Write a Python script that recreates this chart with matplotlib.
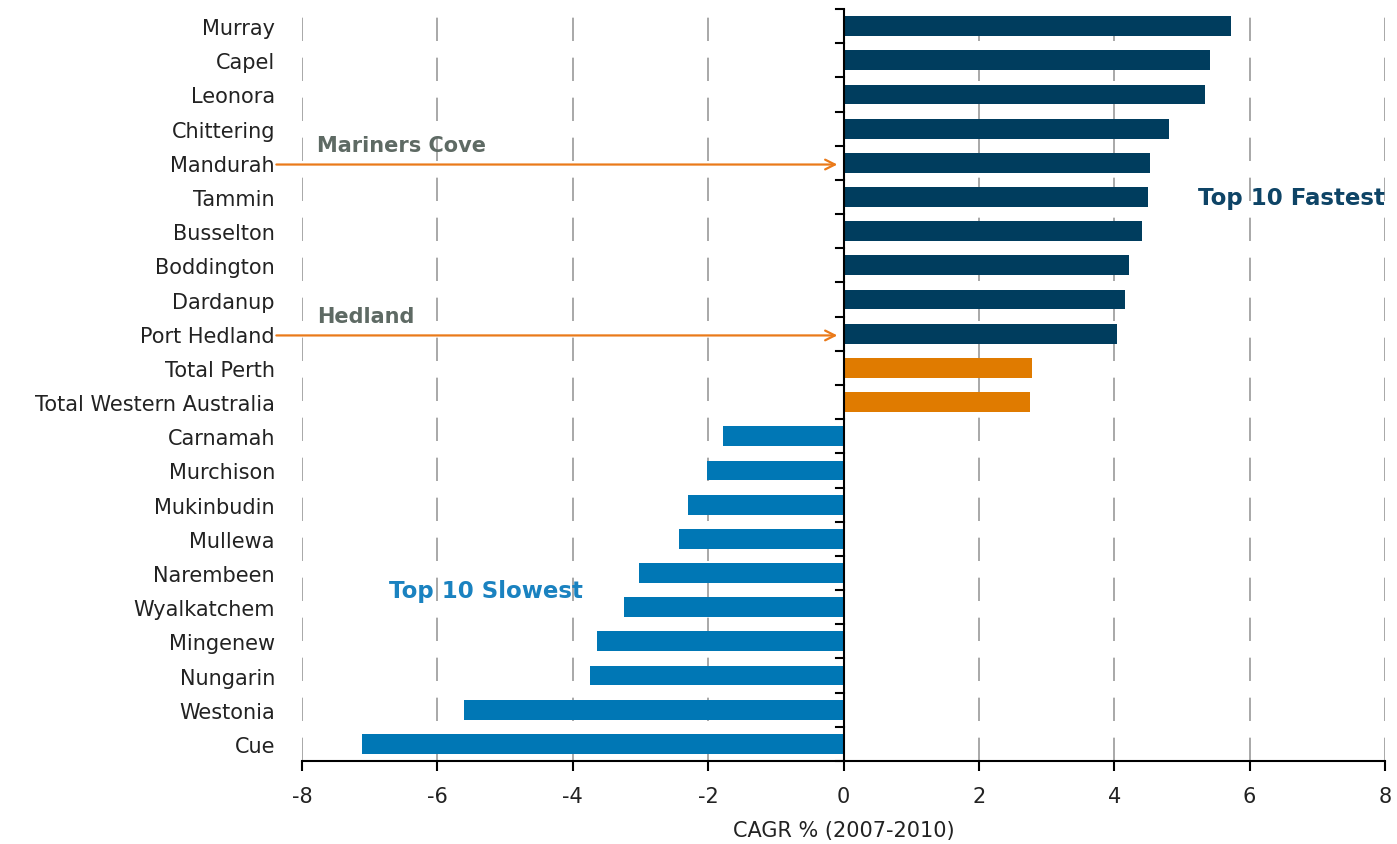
import matplotlib.pyplot as plt

# CAGR % (2007-2010) by local area
areas = ['Murray', 'Capel', 'Leonora', 'Chittering', 'Mandurah', 'Tammin',
         'Busselton', 'Boddington', 'Dardanup', 'Port Hedland', 'Total Perth',
         'Total Western Australia', 'Carnamah', 'Murchison', 'Mukinbudin',
         'Mullewa', 'Narembeen', 'Wyalkatchem', 'Mingenew', 'Nungarin',
         'Westonia', 'Cue']
cagr = [5.72, 5.41, 5.34, 4.81, 4.53, 4.50, 4.41, 4.22, 4.16, 4.04, 2.79,
        2.76, -1.78, -2.01, -2.29, -2.43, -3.02, -3.24, -3.64, -3.75,
        -5.60, -7.12]
groups = ['fast'] * 10 + ['total'] * 2 + ['slow'] * 10
xticks = [-8, -6, -4, -2, 0, 2, 4, 6, 8]

colors = {'fast': '#003d5e', 'total': '#e07b00', 'slow': '#0077b5'}
bar_colors = [colors[g] for g in groups]

fig = plt.figure(figsize=(13.97, 8.45), dpi=100)
ax = fig.add_axes([302 / 1397, 1 - 762 / 845, (1385 - 302) / 1397, (762 - 10) / 845])

y = list(range(len(areas)))
ax.barh(y, cagr, height=0.58, color=bar_colors, zorder=3)

ax.set_xlim(-8, 8)
ax.set_ylim(len(areas) - 0.5, -0.5)

# dashed vertical grid
for xt in xticks:
    if xt != 0:
        ax.axvline(xt, color='#9a9a9a', lw=1.2, dashes=(14, 10), zorder=1)

# zero axis with ticks between categories
ax.axvline(0, color='black', lw=1.5, zorder=4)
for b in range(len(areas) + 1):
    ax.plot([-0.11, 0], [b - 0.5, b - 0.5], color='black', lw=1.5,
            zorder=4, clip_on=False)

for s in ['top', 'right', 'left']:
    ax.spines[s].set_visible(False)
ax.spines['bottom'].set_linewidth(1.5)

ax.set_yticks(y)
ax.set_yticklabels(areas, fontsize=15, color='#222222')
ax.tick_params(axis='y', length=0, pad=19.5)
ax.set_xticks(xticks)
ax.set_xticklabels([str(v) for v in xticks], fontsize=15, color='#222222')
ax.tick_params(axis='x', length=7, width=1.5, direction='out', pad=11)
ax.set_xlabel('CAGR % (2007-2010)', fontsize=15, color='#222222', labelpad=10)

# annotations
arrow_col = '#ea7a1a'
for name, label in [('Mandurah', 'Mariners Cove'), ('Port Hedland', 'Hedland')]:
    i = areas.index(name)
    ax.annotate('', xy=(-0.05, i + 0.05), xytext=(-8.42, i + 0.05),
                arrowprops=dict(arrowstyle='->,head_length=0.7,head_width=0.35',
                                color=arrow_col, lw=1.6),
                annotation_clip=False, zorder=5)
    ax.text(-7.78, i - 0.52, label, fontsize=15, fontweight='bold',
            color='#5e6a64', ha='left', va='center', zorder=5)

ax.text(8, 5.0, 'Top 10 Fastest', fontsize=16.5, fontweight='bold',
        color='#0e4466', ha='right', va='center', zorder=5)
ax.text(-6.72, 16.5, 'Top 10 Slowest', fontsize=16.5, fontweight='bold',
        color='#1a82c0', ha='left', va='center', zorder=5)

fig.savefig('out.png', dpi=100)
